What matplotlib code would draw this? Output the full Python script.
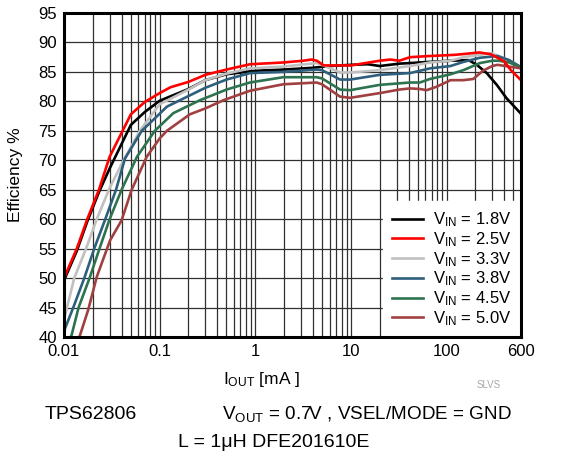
import numpy as np
import matplotlib
matplotlib.use('Agg')
import matplotlib.pyplot as plt
from matplotlib.ticker import LogLocator, FixedLocator, FixedFormatter, NullFormatter

plt.rcParams['font.family'] = ['Liberation Sans', 'DejaVu Sans']
plt.rcParams['mathtext.default'] = 'regular'

# data (I_OUT in mA, efficiency in %)
i_18 = [0.01, 0.0136, 0.0175, 0.0232, 0.03, 0.05, 0.07, 0.1, 0.2, 0.3, 0.5, 1, 2, 4, 6, 10, 15, 20, 32, 52, 110, 170, 207, 263, 335, 425, 600]
e_18 = [49.6, 54.6, 59.6, 64.6, 68.6, 76.0, 78.2, 80.1, 82.1, 83.6, 84.6, 85.2, 85.4, 85.7, 86.0, 86.2, 86.3, 86.0, 86.4, 86.6, 86.9, 87.0, 86.2, 84.8, 82.8, 80.5, 77.9]

i_25 = [0.01, 0.0136, 0.0175, 0.0232, 0.03, 0.041, 0.05, 0.07, 0.1, 0.13, 0.2, 0.3, 0.5, 0.88, 1.96, 3.17, 3.87, 4.4, 5.2, 10, 20, 25.7, 32, 41.5, 67, 123, 220, 290, 400, 470, 600]
e_25 = [50, 55, 60, 65, 70.6, 75, 77.8, 79.9, 81.4, 82.4, 83.3, 84.5, 85.4, 86.3, 86.6, 86.9, 87.1, 86.9, 86.1, 86.1, 86.9, 87.1, 86.9, 87.5, 87.7, 87.9, 88.3, 88.0, 86.8, 85.3, 83.6]

i_33 = [0.01, 0.0128, 0.017, 0.022, 0.03, 0.042, 0.062, 0.1, 0.2, 0.3, 0.5, 0.88, 1.96, 4.38, 4.98, 7.7, 9.8, 20, 41.5, 67, 110, 150, 223, 290, 340, 450, 600]
e_33 = [43, 50, 55, 60, 65.3, 70, 75, 79.5, 82.0, 83.6, 84.7, 85.6, 85.9, 86.5, 86.2, 84.9, 84.9, 85.3, 86.0, 86.6, 86.9, 87.5, 87.9, 88.2, 87.8, 87.0, 85.8]

i_38 = [0.01, 0.0125, 0.0163, 0.0207, 0.027, 0.035, 0.0434, 0.065, 0.1, 0.119, 0.2, 0.3, 0.5, 0.88, 1.96, 4.38, 4.98, 7.7, 9.8, 20, 41.5, 67, 110, 150, 223, 340, 450, 600]
e_38 = [41.0, 45, 50, 55, 60, 65, 70.3, 75, 77.9, 79.1, 80.9, 82.3, 83.7, 84.8, 85.0, 85.4, 85.3, 83.7, 83.7, 84.5, 84.8, 85.6, 86.0, 86.7, 87.4, 87.7, 87.0, 85.8]

i_45 = [0.01, 0.012, 0.0142, 0.0185, 0.0235, 0.03, 0.04, 0.058, 0.089, 0.139, 0.264, 0.5, 0.88, 1.96, 4.38, 4.98, 7.7, 9.8, 20, 41.5, 52.6, 67, 110, 150, 223, 300, 350, 450, 600]
e_45 = [38.0, 40.3, 45, 50, 55, 60, 65, 70.6, 75, 78, 80.2, 82.0, 83.2, 84.1, 84.1, 83.9, 82.0, 81.9, 82.8, 83.2, 83.2, 83.8, 84.6, 85.3, 86.5, 86.9, 86.9, 86.6, 85.8]

i_50 = [0.01, 0.0147, 0.0179, 0.022, 0.0303, 0.04, 0.051, 0.0733, 0.1, 0.119, 0.207, 0.3, 0.466, 0.88, 1.96, 4.38, 4.98, 7.7, 9.8, 20, 32, 41.5, 52.6, 62, 79, 110, 150, 190, 240, 300, 340, 600]
e_50 = [34.0, 40.3, 44.6, 50.2, 56.4, 59.8, 65, 70.6, 73.7, 75, 77.8, 78.8, 80.2, 81.8, 82.9, 83.2, 82.9, 80.8, 80.6, 81.4, 82.0, 82.2, 82.1, 81.9, 82.5, 83.6, 83.6, 83.8, 85.2, 86.0, 86.2, 85.6]

series = [
    (i_18, e_18, '#000000', r'V$_{IN}$ = 1.8V'),
    (i_25, e_25, '#ff0000', r'V$_{IN}$ = 2.5V'),
    (i_33, e_33, '#c0c0c0', r'V$_{IN}$ = 3.3V'),
    (i_38, e_38, '#2e5f7d', r'V$_{IN}$ = 3.8V'),
    (i_45, e_45, '#2e7350', r'V$_{IN}$ = 4.5V'),
    (i_50, e_50, '#a04040', r'V$_{IN}$ = 5.0V'),
]

fig = plt.figure(figsize=(5.73, 4.65), dpi=100)
ax = fig.add_axes([64/573, 1-337/465, (521-64)/573, (337-13)/465])

# red sits on top of black at low load, as in the reference
for i, e, c, lab in series:
    z = 3 if c != '#ff0000' else 4
    ax.plot(i, e, color=c, lw=1.9, label=lab, zorder=z)

ax.set_xscale('log')
ax.set_xlim(0.01, 600)
ax.set_ylim(40, 95)
ax.xaxis.set_major_locator(FixedLocator([0.01, 0.1, 1, 10, 100, 600]))
ax.xaxis.set_major_formatter(FixedFormatter(['0.01', '0.1', '1', '10', '100', '600']))
ax.xaxis.set_minor_locator(LogLocator(base=10, subs=np.arange(2, 10), numticks=20))
ax.xaxis.set_minor_formatter(NullFormatter())
ax.set_yticks(np.arange(40, 96, 5))
ax.tick_params(which='both', length=0, labelsize=12, pad=5)
ax.grid(which='both', axis='x', color='#303030', lw=0.9)
ax.grid(which='major', axis='y', color='#303030', lw=0.9)
ax.set_axisbelow(True)
for s in ax.spines.values():
    s.set_linewidth(2.2)
    s.set_zorder(6)

leg = ax.legend(loc='lower right', fontsize=12, frameon=True, fancybox=False,
                borderaxespad=0, handlelength=1.9, labelspacing=0.06,
                borderpad=0.55, handletextpad=0.6)
leg.get_frame().set_edgecolor('white')
leg.get_frame().set_alpha(1)
leg.set_zorder(5)

fig.text(16/573, 1-175/465, 'Efficiency %', fontsize=12.5, rotation=90, ha='center', va='center')
fig.text(262/573, 1-379/465, r'I$_{OUT}$ [mA ]', fontsize=12.5, ha='center', va='center')
fig.text(489/573, 1-385/465, 'SLVS', fontsize=7, color='#a8a8a8', ha='center', va='center')
fig.text(45/573, 1-414/465, 'TPS62806', fontsize=14, ha='left', va='center')
fig.text(222/573, 1-414/465, r'V$_{OUT}$ = 0.7V , VSEL/MODE = GND', fontsize=13.6, ha='left', va='center')
fig.text(274/573, 1-442/465, 'L = 1μH DFE201610E', fontsize=14, ha='center', va='center')

fig.savefig('out.png', dpi=100)
